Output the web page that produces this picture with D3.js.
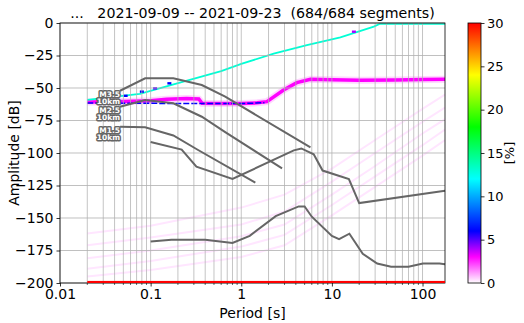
<!DOCTYPE html>
<html>
<head>
<meta charset="utf-8">
<script src="https://cdn.jsdelivr.net/npm/d3@7/dist/d3.min.js"></script>
<style>
  body { margin: 0; background: #fff; }
  text { font-family: 'DejaVu Sans', sans-serif; }
</style>
</head>
<body>
<div id="chart"></div>
<script>
// ---- data ----
const titleText = '...   2021-09-09 -- 2021-09-23  (684/684 segments)';

const periodTicks = [0.01, 0.1, 1, 10, 100];
const periodTickLabels = ['0.01', '0.1', '1', '10', '100'];
const dbTicks = [0, -25, -50, -75, -100, -125, -150, -175, -200];
const pctTicks = [0, 5, 10, 15, 20, 25, 30];

// Peterson noise models
const nhnmPeriods = [0.1, 0.22, 0.32, 0.8, 3.8, 4.6, 6.3, 7.9, 15.4, 20, 177];
const nhnmDb = [-91.5, -97.4, -110.5, -120.0, -98.0, -96.5, -101.0, -113.5, -120.0, -138.5, -129.0];
const nlnmPeriods = [0.1, 0.17, 0.4, 0.8, 1.24, 2.4, 4.3, 5.0, 6.0, 10, 12, 15.6, 21.9, 31.6, 45, 70, 101, 154, 177];
const nlnmDb = [-168.0, -166.7, -166.7, -169.2, -163.7, -148.6, -141.1, -141.1, -149.0, -163.8, -166.2, -162.1, -177.5, -185.0, -187.5, -187.5, -185.0, -185.0, -185.5];

// earthquake models (10 km)
const quakeNames = ['M3.5', 'M2.5', 'M1.5'];
const quakePeriods = [
  [0.046, 0.087, 0.178, 0.367, 0.665, 5.8],
  [0.046, 0.087, 0.178, 0.367, 0.665, 2.82],
  [0.046, 0.087, 0.178, 0.334, 1.43]
];
const quakeDb = [
  [-52.1, -42.5, -42.5, -47.7, -56.7, -95.6],
  [-64.4, -59.2, -61.8, -72.1, -84.0, -111.8],
  [-79.8, -80.2, -86.5, -97.7, -122.8]
];

// histogram traces (period, dB, percent of segments)
const modePeriods = [0.02, 0.05, 0.1, 0.15, 0.25, 0.34, 0.37, 0.6, 1.0, 1.5, 1.92, 2.93, 4.1, 5.8, 10, 20, 50, 100, 177];
const modeDb = [-60.8, -60.4, -59.8, -58.6, -58.0, -58.5, -61.8, -62.0, -62.0, -61.4, -60.5, -51.5, -45.9, -43.3, -43.6, -44.0, -43.8, -43.5, -43.3];
const modePct = 3;

const floorPeriods = [0.02, 0.1, 0.5, 1.0, 1.8];
const floorDb = [-61.5, -61.8, -62.0, -62.0, -61.3];
const floorPct = 6;

const rampPeriods = [0.02, 0.076, 0.21, 0.6, 1.0, 2.28, 5.3, 12.4, 29, 34, 177];
const rampDb = [-59.2, -54.6, -45.9, -37.0, -31.5, -23.5, -17.0, -11.0, -2.8, -0.6, -0.6];
const rampPct = 13;

const spotPeriods = [0.053, 0.08, 0.112, 0.161, 17.5];
const spotDb = [-56.0, -52.8, -50.3, -46.4, -6.7];
const spotPct = [6, 6, 5, 6, 4];

const faintPeriods = [0.02, 0.1, 1, 3, 10, 30, 100, 177];
const faintDb = [
  [-162, -156, -142, -132, -112, -90, -66, -55],
  [-171, -165, -155, -145, -122, -100, -76, -65],
  [-181, -175, -164, -155, -132, -110, -85, -74],
  [-189, -183, -172, -163, -140, -118, -94, -82],
  [-195, -190, -180, -171, -148, -126, -102, -90]
];
const faintPct = 0.3;

const floorRowPeriods = [0.02, 177];
const floorRowPct = 30;

// ---- layout ----
const W = 524, H = 323;
const margin = {top: 23, right: 79, bottom: 40, left: 60};
const width = W - margin.left - margin.right;
const height = H - margin.top - margin.bottom;

const x = d3.scaleLog().domain([0.01, 177]).range([0, width]);
const y = d3.scaleLinear().domain([-200, 0]).range([height, 0]);

// pqlx colormap
const color = d3.scaleLinear()
  .domain([0, 3, 6, 12, 18, 24, 30])
  .range(['#ffffff', '#ff00ff', '#0000ff', '#00ffff', '#00ff00', '#ffff00', '#ff0000'])
  .clamp(true);

const svg = d3.select('#chart').append('svg')
  .attr('width', W)
  .attr('height', H);

const g = svg.append('g')
  .attr('transform', 'translate(' + margin.left + ',' + margin.top + ')');

g.append('clipPath').attr('id', 'clip')
  .append('rect').attr('width', width).attr('height', height);

const line = d3.line()
  .x(d => x(d[0]))
  .y(d => y(d[1]));

const zip = (a, b) => a.map((v, i) => [v, b[i]]);

const hist = g.append('g').attr('clip-path', 'url(#clip)');

// faint low-percentage traces
faintDb.forEach(function(row) {
  hist.append('path')
    .attr('d', line(zip(faintPeriods, row)))
    .attr('fill', 'none')
    .attr('stroke', color(faintPct))
    .attr('stroke-width', 2);
});

// mode of the histogram
hist.append('path')
  .attr('d', line(zip(modePeriods, modeDb)))
  .attr('fill', 'none')
  .attr('stroke', color(0.5))
  .attr('stroke-width', 7);
hist.append('path')
  .attr('d', line(zip(modePeriods, modeDb)))
  .attr('fill', 'none')
  .attr('stroke', color(modePct))
  .attr('stroke-width', 3.5);
hist.append('path')
  .attr('d', line(zip(floorPeriods, floorDb)))
  .attr('fill', 'none')
  .attr('stroke', color(floorPct))
  .attr('stroke-width', 1.5)
  .attr('stroke-dasharray', '6,2');

// ramp of clipped segments
hist.append('path')
  .attr('d', line(zip(rampPeriods, rampDb)))
  .attr('fill', 'none')
  .attr('stroke', color(rampPct))
  .attr('stroke-width', 1.8);

hist.selectAll('rect.spot')
  .data(zip(spotPeriods, spotDb).map((d, i) => [d[0], d[1], spotPct[i]]))
  .enter().append('rect')
  .attr('class', 'spot')
  .attr('x', d => x(d[0]) - 2)
  .attr('y', d => y(d[1]) - 1.2)
  .attr('width', 4)
  .attr('height', 2.4)
  .attr('fill', d => color(d[2]));

// grid
const minorPeriods = [];
[0.01, 0.1, 1, 10, 100].forEach(function(dec) {
  for (let k = 1; k < 10; k++) {
    if (dec * k <= 177) minorPeriods.push(dec * k);
  }
});

g.append('g').selectAll('line')
  .data(minorPeriods)
  .enter().append('line')
  .attr('x1', d => x(d)).attr('x2', d => x(d))
  .attr('y1', 0).attr('y2', height)
  .attr('stroke', '#b0b0b0')
  .attr('stroke-opacity', 0.75)
  .attr('stroke-width', 1);

g.append('g').selectAll('line')
  .data(dbTicks)
  .enter().append('line')
  .attr('x1', 0).attr('x2', width)
  .attr('y1', d => y(d)).attr('y2', d => y(d))
  .attr('stroke', '#b0b0b0')
  .attr('stroke-opacity', 0.8)
  .attr('stroke-width', 1);

// noise models
g.append('path')
  .attr('d', line(zip(nhnmPeriods, nhnmDb)))
  .attr('fill', 'none')
  .attr('stroke', '#666')
  .attr('stroke-width', 2);
g.append('path')
  .attr('d', line(zip(nlnmPeriods, nlnmDb)))
  .attr('fill', 'none')
  .attr('stroke', '#666')
  .attr('stroke-width', 2);

// earthquake models
quakeNames.forEach(function(name, i) {
  const pts = zip(quakePeriods[i], quakeDb[i]);
  g.append('path')
    .attr('d', line(pts))
    .attr('fill', 'none')
    .attr('stroke', '#666')
    .attr('stroke-width', 2);

  const lbl = g.append('text')
    .attr('x', x(pts[0][0]))
    .attr('y', y(pts[0][1]))
    .attr('text-anchor', 'end')
    .style('font-size', '7.5px')
    .style('font-weight', 'bold')
    .attr('fill', '#fff')
    .attr('stroke', '#666')
    .attr('stroke-width', 3)
    .attr('stroke-linejoin', 'round')
    .style('paint-order', 'stroke');
  lbl.append('tspan').attr('x', x(pts[0][0])).attr('dy', 6).text(name);
  lbl.append('tspan').attr('x', x(pts[0][0])).attr('dy', 7.5).text('10km');
});

// axes
const xAxis = d3.axisBottom(x)
  .tickValues(periodTicks)
  .tickFormat((d, i) => periodTickLabels[i])
  .tickSize(3.5)
  .tickPadding(3);

const xAxisG = g.append('g')
  .attr('transform', 'translate(0,' + height + ')')
  .call(xAxis);

xAxisG.append('g').selectAll('line')
  .data(minorPeriods.filter(d => periodTicks.indexOf(d) < 0))
  .enter().append('line')
  .attr('x1', d => x(d)).attr('x2', d => x(d))
  .attr('y1', 0).attr('y2', 2)
  .attr('stroke', '#000')
  .attr('stroke-width', 0.6);

const yAxis = d3.axisLeft(y)
  .tickValues(dbTicks)
  .tickFormat(d => d < 0 ? '\u2212' + Math.abs(d) : String(d))
  .tickSize(3.5)
  .tickPadding(3);

const yAxisG = g.append('g').call(yAxis);

[xAxisG, yAxisG].forEach(function(a) {
  a.select('.domain').remove();
  a.selectAll('text').style('font-size', '14px').attr('fill', '#000');
  a.selectAll('.tick line').attr('stroke', '#000').attr('stroke-width', 0.8);
});

// frame
g.append('rect')
  .attr('width', width)
  .attr('height', height)
  .attr('fill', 'none')
  .attr('stroke', '#000')
  .attr('stroke-width', 0.8);

// bottom row (values below -200 dB), sits on the lower spine
g.append('rect')
  .attr('x', x(floorRowPeriods[0]))
  .attr('y', y(-198.4))
  .attr('width', x(floorRowPeriods[1]) - x(floorRowPeriods[0]))
  .attr('height', y(-200) - y(-198.4))
  .attr('fill', color(floorRowPct));

// labels
svg.append('text')
  .attr('x', margin.left + width / 2)
  .attr('y', 18)
  .attr('text-anchor', 'middle')
  .attr('xml:space', 'preserve')
  .style('white-space', 'pre')
  .style('font-size', '14.2px')
  .text(titleText);

svg.append('text')
  .attr('x', margin.left + width / 2)
  .attr('y', 318)
  .attr('text-anchor', 'middle')
  .style('font-size', '14px')
  .text('Period [s]');

svg.append('text')
  .attr('transform', 'translate(19,' + (margin.top + height / 2) + ') rotate(-90)')
  .attr('text-anchor', 'middle')
  .style('font-size', '14px')
  .text('Amplitude [dB]');

// colorbar
const cbX = 468, cbW = 13;
const cbScale = d3.scaleLinear().domain([0, 30]).range([margin.top + height, margin.top]);

const grad = svg.append('defs').append('linearGradient')
  .attr('id', 'cbgrad')
  .attr('x1', 0).attr('y1', 1).attr('x2', 0).attr('y2', 0);
d3.range(0, 31, 1).forEach(function(v) {
  grad.append('stop')
    .attr('offset', v / 30)
    .attr('stop-color', color(v));
});

svg.append('rect')
  .attr('x', cbX)
  .attr('y', margin.top)
  .attr('width', cbW)
  .attr('height', height)
  .attr('fill', 'url(#cbgrad)')
  .attr('stroke', '#000')
  .attr('stroke-width', 0.8);

const cbAxis = svg.append('g')
  .attr('transform', 'translate(' + (cbX + cbW) + ',0)')
  .call(d3.axisRight(cbScale).tickValues(pctTicks).tickSize(3.5).tickPadding(2.5));
cbAxis.select('.domain').remove();
cbAxis.selectAll('text').style('font-size', '13px').attr('fill', '#000');
cbAxis.selectAll('.tick line').attr('stroke', '#000').attr('stroke-width', 0.8);

svg.append('text')
  .attr('transform', 'translate(514,' + (margin.top + height / 2) + ') rotate(-90)')
  .attr('text-anchor', 'middle')
  .style('font-size', '13px')
  .text('[%]');
</script>
</body>
</html>
